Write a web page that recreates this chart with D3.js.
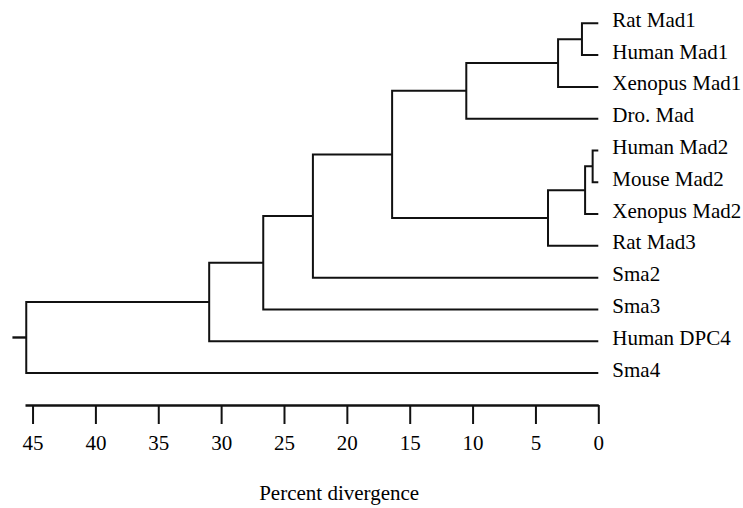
<!DOCTYPE html>
<html>
<head>
<meta charset="utf-8">
<script src="https://cdn.jsdelivr.net/npm/d3@7"></script>
<style>
  html, body { margin: 0; padding: 0; background: #fff; }
  svg { display: block; }
</style>
</head>
<body>
<svg id="chart" width="743" height="508"></svg>
<script>
// ---- data ----
const leaves = ["Rat Mad1", "Human Mad1", "Xenopus Mad1", "Dro. Mad",
  "Human Mad2", "Mouse Mad2", "Xenopus Mad2", "Rat Mad3",
  "Sma2", "Sma3", "Human DPC4", "Sma4"];
// merges: [child A index, child B index, node height (% divergence)]
// indices 0..11 are leaves, 12.. are merged nodes in order
const merges = [
  [0, 1, 1.3],
  [12, 2, 3.2],
  [13, 3, 10.5],
  [4, 5, 0.45],
  [15, 6, 1.05],
  [16, 7, 4.0],
  [14, 17, 16.4],
  [18, 8, 22.7],
  [19, 9, 26.65],
  [20, 10, 30.95],
  [21, 11, 45.5]
];
const tickValues = [45, 40, 35, 30, 25, 20, 15, 10, 5, 0];
const axisMax = 45.6;
const rootStub = 1.1;
const axisTitle = "Percent divergence";

const FONT = "'Liberation Serif', 'Times New Roman', serif";

// ---- build tree ----
const nodes = leaves.map(name => ({ name, height: 0 }));
merges.forEach(([a, b, h]) => nodes.push({ children: [nodes[a], nodes[b]], height: h }));
const root = d3.hierarchy(nodes[nodes.length - 1]);

// ---- scales ----
const x = d3.scaleLinear().domain([axisMax, 0]).range([25, 598.3]);
const y = d3.scalePoint().domain(leaves).range([23.3, 373]);

root.eachAfter(n => {
  n.px = x(n.data.height);
  n.py = n.children ? d3.mean(n.children, c => c.py) : y(n.data.name);
});

const svg = d3.select("#chart");
svg.append("rect").attr("width", 743).attr("height", 508).attr("fill", "#fff");

const g = svg.append("g");
const lw = 2;

g.selectAll("path.elbow")
  .data(root.descendants().filter(n => n.children))
  .join("path")
  .attr("class", "elbow")
  .attr("fill", "none")
  .attr("stroke", "#111")
  .attr("stroke-width", lw)
  .attr("stroke-linejoin", "miter")
  .attr("d", n => {
    const [a, b] = n.children;
    return `M${a.px},${a.py}H${n.px}V${b.py}H${b.px}`;
  });

g.append("path")
  .attr("fill", "none")
  .attr("stroke", "#111")
  .attr("stroke-width", lw + 0.4)
  .attr("d", `M${x(root.data.height + rootStub)},${root.py}H${root.px}`);

g.selectAll("text.leaf")
  .data(root.leaves())
  .join("text")
  .attr("class", "leaf")
  .attr("x", x(0) + 14)
  .attr("y", n => n.py + 3.5)
  .attr("font-family", FONT)
  .attr("font-size", 21)
  .attr("fill", "#000")
  .text(n => n.data.name);

const axisY = 405;
const axis = d3.axisBottom(x)
  .tickValues(tickValues)
  .tickFormat(d3.format("d"))
  .tickSize(19)
  .tickSizeOuter(0)
  .tickPadding(11);
const ag = svg.append("g").attr("transform", `translate(0,${axisY})`).call(axis);
ag.attr("font-family", FONT).attr("font-size", 21);
ag.select(".domain").attr("stroke", "#111").attr("stroke-width", 2.4);
ag.selectAll(".tick line").attr("stroke", "#111").attr("stroke-width", 2);
ag.selectAll(".tick text")
  .attr("font-family", FONT)
  .attr("font-size", 21)
  .attr("fill", "#000");

svg.append("text")
  .attr("x", x(axisMax) + (x(0) - x(axisMax)) * 0.548)
  .attr("y", 500)
  .attr("text-anchor", "middle")
  .attr("font-family", FONT)
  .attr("font-size", 21)
  .attr("fill", "#000")
  .text(axisTitle);
</script>
</body>
</html>
